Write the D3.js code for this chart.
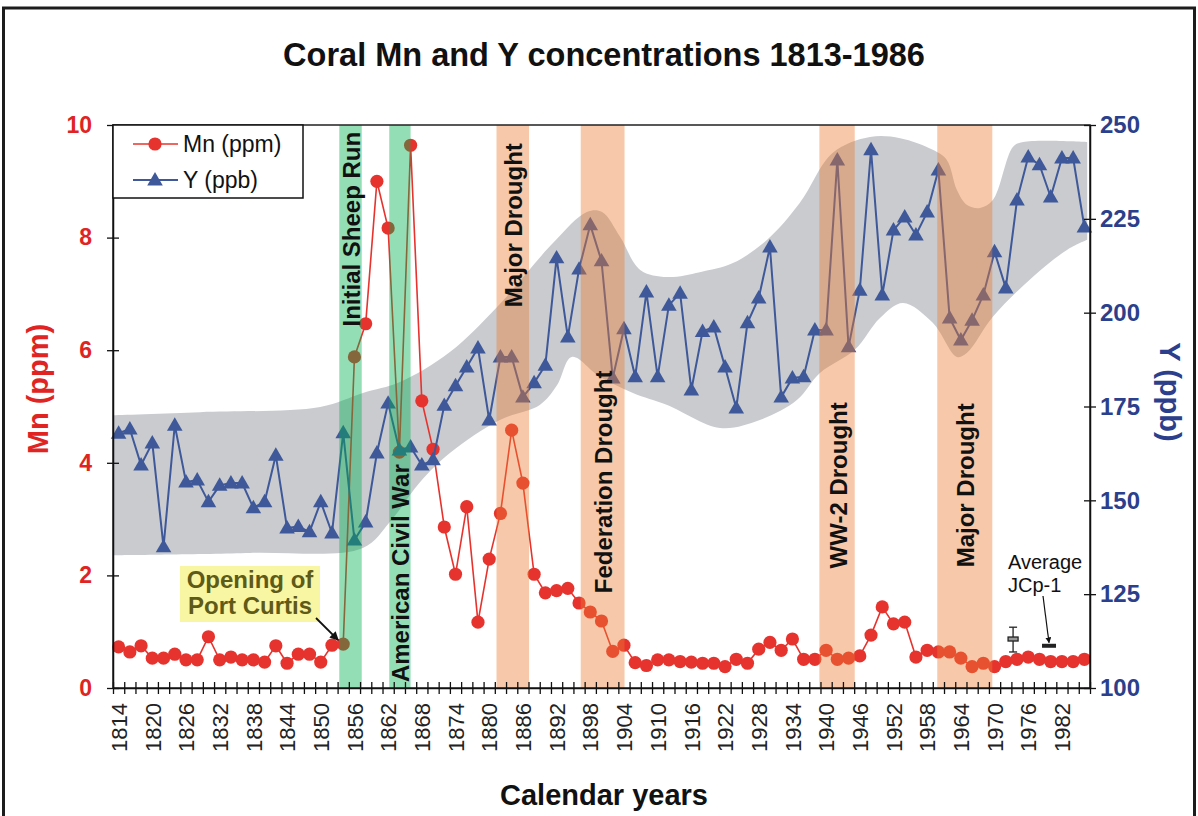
<!DOCTYPE html>
<html><head><meta charset="utf-8">
<script src="https://cdn.jsdelivr.net/npm/d3@7"></script>
<style>
body{margin:0;background:#fff}
svg{display:block}
text{font-family:"Liberation Sans",Arial,Helvetica,sans-serif}
</style>
</head><body>
<svg id="chart" width="1198" height="816"></svg>
<script>
// ---------------- DATA ----------------
const years = d3.range(1814, 1987, 2); // 1814 … 1986, every 2 years
const mnValues = [
  0.73,0.64,0.75,0.53,0.53,0.60,0.50,0.50,0.91,0.50,0.55,0.50,0.50,0.46,0.75,0.44,0.60,0.60,0.46,0.76,0.78,
  5.88,6.47,9.00,8.17,4.19,9.64,5.10,4.24,2.86,2.02,3.22,1.17,2.29,3.10,4.58,3.64,2.02,1.69,1.73,1.77,1.51,1.35,1.19,0.65,0.76,0.45,0.40,0.50,0.50,0.47,0.46,0.44,
  0.44,0.38,0.51,0.44,0.69,0.81,0.67,0.87,0.51,0.51,0.67,0.51,0.53,0.57,0.94,1.44,1.14,1.17,0.55,0.67,0.64,0.64,0.53,0.38,0.44,0.38,0.47,0.51,0.55,0.51,0.47,0.47,0.47,0.51
];
const yValues = [
  167.9,169.0,159.4,165.3,137.6,170.0,154.9,155.4,149.6,154.0,154.6,154.6,148.0,149.6,162.0,142.6,143.0,141.6,149.6,141.3,168.0,139.4,144.2,162.6,
  175.9,163.4,164.2,159.4,160.8,175.3,180.5,185.5,190.6,171.4,188.2,188.2,177.5,181.3,186.0,214.6,193.5,211.6,223.4,213.8,182.6,195.7,182.9,205.5,182.9,202.0,205.2,179.4,195.0,
  196.2,185.5,174.6,197.3,203.9,217.5,177.5,182.6,182.9,195.4,195.4,240.7,190.9,206.0,243.4,204.7,222.0,225.5,220.7,226.8,238.0,198.6,192.7,198.0,204.7,216.2,206.6,230.0,241.5,239.4,230.8,241.2,241.2,222.8
];
// Y uncertainty envelope [year, ppb]
const envelopeUpper = [
  [1813,172.7],[1828.5,173.5],[1849.9,174.9],[1857.5,178.6],[1864.1,181.5],[1873,189.5],[1881.4,201.5],
  [1891.4,218.6],[1897.4,226.8],[1900.1,226.8],[1903.3,220.2],[1906.9,211.4],[1911.7,209.5],[1917.5,210.8],
  [1923.4,213.2],[1929.5,219.4],[1935.3,229.2],[1941.2,242.6],[1947.8,246.8],[1953.2,246.5],[1959,243.4],
  [1961.5,240.7],[1963.3,232.7],[1965.1,228.7],[1967.4,227.9],[1969.7,230],[1973.3,244.2],[1975.1,245.5],[1986.5,245.5]
];
const envelopeLower = [
  [1813,135.4],[1837.4,136],[1857.5,137.3],[1862.3,144.2],[1867.7,154.9],[1873,162.6],[1881.9,171.4],
  [1889,175.4],[1892.1,180.7],[1894.7,188.2],[1899.7,182.9],[1905.6,178.6],[1911.7,175.4],[1921.1,169.3],
  [1928.2,171.4],[1934.8,176.7],[1938.9,183.9],[1945.1,190.1],[1949.6,198.6],[1953.7,202.6],[1959,197.3],
  [1963.3,188.2],[1965.1,189.3],[1969.7,198.9],[1976.8,209.5],[1982.9,216.7],[1986.5,219.4]
];
const eventLabels = ["Initial Sheep Run","American Civil War","Major Drought","Federation Drought","WW-2 Drought","Major Drought"];
const eventStart  = [1853.3, 1862.2, 1881.3, 1896.3, 1938.8, 1959.8];
const eventEnd    = [1857.3, 1866.0, 1887.1, 1904.1, 1945.1, 1969.6];
const eventKind   = ["settlement","war","drought","drought","drought","drought"];
const eventLabelMn = [8.15, 2.04, 8.22, 3.66, 3.60, 3.60]; // label centre, in Mn units
const mnTicks = [0,2,4,6,8,10];
const yTicks = [100,125,150,175,200,225,250];
const yearLabels = d3.range(1814, 1983, 6);
const yearTicks = d3.range(1813, 1988, 2);
const jcpErrorBar = {year:1973.3, mid:0.87, lo:0.64, hi:1.08};
const jcpAverage = {year:1979.7, mn:0.75};

// ---------------- LAYOUT ----------------
const L=113, R=1090, T=125, B=688;
const x = d3.scaleLinear().domain([1813,1987]).range([L,R]);
const yL = d3.scaleLinear().domain([0,10]).range([B,T]);
const yR = d3.scaleLinear().domain([100,250]).range([B,T]);
const mnColor = "#e6332e", yColor = "#3e5899";
const svg = d3.select("#chart");

// outer frame
svg.append("rect").attr("x",3.5).attr("y",8).attr("width",1191).attr("height",840)
  .attr("fill","#fff").attr("stroke","#1c1c1c").attr("stroke-width",3);

// title
svg.append("text").attr("x",604).attr("y",66).attr("text-anchor","middle")
  .attr("font-size",32.5).attr("font-weight","bold").attr("fill","#111")
  .text("Coral Mn and Y concentrations 1813-1986");

// envelope
const envLine = d3.line().x(d=>x(d[0])).y(d=>yR(d[1])).curve(d3.curveCatmullRom.alpha(0.5));
const upperPath = envLine(envelopeUpper);
const lowerPath = envLine(envelopeLower.slice().reverse());
svg.append("path").attr("d", upperPath + "L" + lowerPath.slice(1) + "Z")
  .attr("fill","#c9cbcf");

// Mn series
const mnData = years.map((yr,i)=>[yr, mnValues[i]]);
svg.append("path").attr("d", d3.line().x(d=>x(d[0])).y(d=>yL(d[1]))(mnData))
  .attr("fill","none").attr("stroke",mnColor).attr("stroke-width",1.6);
svg.append("g").selectAll("circle").data(mnData).join("circle")
  .attr("cx",d=>x(d[0])).attr("cy",d=>yL(d[1])).attr("r",6.6).attr("fill",mnColor);

// Y series
const yData = years.map((yr,i)=>[yr, yValues[i]]);
svg.append("path").attr("d", d3.line().x(d=>x(d[0])).y(d=>yR(d[1]))(yData))
  .attr("fill","none").attr("stroke",yColor).attr("stroke-width",2);
const tri = d3.symbol(d3.symbolTriangle).size(105);
svg.append("g").selectAll("path").data(yData).join("path")
  .attr("d",tri).attr("transform",d=>`translate(${x(d[0])},${yR(d[1])+1})`).attr("fill",yColor);

// event bands (overlay)
const bandFill = {settlement:"#00b050", war:"#00b050", drought:"#ed7d31"};
const bandOpacity = {settlement:0.42, war:0.42, drought:0.42};
eventLabels.forEach((lab,i)=>{
  svg.append("rect").attr("x",x(eventStart[i])).attr("y",T)
    .attr("width",x(eventEnd[i])-x(eventStart[i])).attr("height",B-T)
    .attr("fill",bandFill[eventKind[i]]).attr("fill-opacity",bandOpacity[eventKind[i]]);
});

// plot frame
svg.append("rect").attr("x",L).attr("y",T).attr("width",R-L).attr("height",B-T)
  .attr("fill","none").attr("stroke","#222").attr("stroke-width",1.5);

// event labels
eventLabels.forEach((lab,i)=>{
  const cx = (x(eventStart[i])+x(eventEnd[i]))/2, cy = yL(eventLabelMn[i]);
  svg.append("text").attr("transform",`translate(${cx+1},${cy}) rotate(-90)`)
    .attr("text-anchor","middle").attr("dominant-baseline","central")
    .attr("font-size",24).attr("font-weight","bold").attr("fill","#111").text(lab);
});

// x axis
const xAxis = svg.append("g").attr("transform",`translate(0,${B})`)
  .call(d3.axisBottom(x).tickValues(yearTicks).tickSize(6).tickSizeOuter(0).tickFormat(""));
xAxis.select(".domain").attr("stroke","#111").attr("stroke-width",1.5);
xAxis.selectAll(".tick line").attr("y1",-6).attr("stroke","#111").attr("stroke-width",1.3);
const xLab = svg.append("g").attr("transform",`translate(0,${B})`)
  .call(d3.axisBottom(x).tickValues(yearLabels).tickSize(0).tickFormat(d3.format("d")));
xLab.select(".domain").remove();
xLab.selectAll("text").attr("y",0).attr("x",0).attr("dy","0.35em")
  .attr("transform","translate(0,15) rotate(-90)").attr("text-anchor","end")
  .attr("font-size",22).attr("fill","#222").style("font-family","'Liberation Sans',Arial,sans-serif");

// left axis
const la = svg.append("g").attr("transform",`translate(${L},0)`)
  .call(d3.axisLeft(yL).tickValues(mnTicks).tickSize(6).tickSizeOuter(0));
la.select(".domain").attr("stroke","#111").attr("stroke-width",1.5);
la.selectAll(".tick line").attr("x1",6).attr("stroke","#111").attr("stroke-width",1.3);
la.selectAll("text").attr("x",-21).attr("font-size",23).attr("font-weight","bold")
  .attr("fill","#e02424").style("font-family","'Liberation Sans',Arial,sans-serif");

// right axis
const ra = svg.append("g").attr("transform",`translate(${R},0)`)
  .call(d3.axisRight(yR).tickValues(yTicks).tickSize(6).tickSizeOuter(0));
ra.select(".domain").attr("stroke","#111").attr("stroke-width",1.5);
ra.selectAll(".tick line").attr("x1",-6).attr("stroke","#111").attr("stroke-width",1.3);
ra.selectAll("text").attr("x",10).attr("font-size",24).attr("font-weight","bold")
  .attr("fill","#2b3f8c").style("font-family","'Liberation Sans',Arial,sans-serif");

// axis titles
svg.append("text").attr("transform","translate(38,389) rotate(-90)").attr("text-anchor","middle")
  .attr("dominant-baseline","central").attr("font-size",29).attr("font-weight","bold")
  .attr("fill","#e02424").text("Mn (ppm)");
svg.append("text").attr("transform","translate(1170,392) rotate(90)").attr("text-anchor","middle")
  .attr("dominant-baseline","central").attr("font-size",29).attr("font-weight","bold")
  .attr("fill","#2b3f8c").text("Y (ppb)");
svg.append("text").attr("x",604).attr("y",805).attr("text-anchor","middle")
  .attr("font-size",29).attr("font-weight","bold").attr("fill","#111").text("Calendar years");

// legend
const lg = svg.append("g");
lg.append("rect").attr("x",L).attr("y",T).attr("width",190).attr("height",73)
  .attr("fill","#fff").attr("stroke","#111").attr("stroke-width",1.5);
lg.append("line").attr("x1",133).attr("x2",178).attr("y1",144).attr("y2",144).attr("stroke",mnColor).attr("stroke-width",1.6);
lg.append("circle").attr("cx",155).attr("cy",144).attr("r",6.6).attr("fill",mnColor);
lg.append("text").attr("x",183).attr("y",144).attr("dominant-baseline","central").attr("font-size",23).attr("fill","#111").text("Mn (ppm)");
lg.append("line").attr("x1",133).attr("x2",178).attr("y1",180).attr("y2",180).attr("stroke",yColor).attr("stroke-width",2);
lg.append("path").attr("d",tri).attr("transform","translate(155,181)").attr("fill",yColor);
lg.append("text").attr("x",183).attr("y",180).attr("dominant-baseline","central").attr("font-size",23).attr("fill","#111").text("Y (ppb)");

// arrow marker
svg.append("defs").append("marker").attr("id","arr").attr("viewBox","0 0 10 10")
  .attr("refX",9).attr("refY",5).attr("markerWidth",5).attr("markerHeight",5).attr("orient","auto")
  .append("path").attr("d","M0,0L10,5L0,10Z").attr("fill","#111");

// Opening of Port Curtis annotation
const pc = svg.append("g");
pc.append("rect").attr("x",180).attr("y",566).attr("width",140).attr("height",56).attr("fill","#f9f6a3");
pc.append("text").attr("x",250).attr("y",588).attr("text-anchor","middle").attr("font-size",24)
  .attr("font-weight","bold").attr("fill","#5e5a18").text("Opening of");
pc.append("text").attr("x",250).attr("y",614).attr("text-anchor","middle").attr("font-size",24)
  .attr("font-weight","bold").attr("fill","#5e5a18").text("Port Curtis");
svg.append("line").attr("x1",316).attr("y1",618).attr("x2",x(1854)-5).attr("y2",yL(mnValues[20])-4)
  .attr("stroke","#111").attr("stroke-width",1.8).attr("marker-end","url(#arr)");

// JCp-1 annotation
svg.append("text").attr("x",1008).attr("y",569).attr("font-size",20).attr("fill","#111").text("Average");
svg.append("text").attr("x",1008).attr("y",592).attr("font-size",20).attr("fill","#111").text("JCp-1");
svg.append("line").attr("x1",1043).attr("y1",596).attr("x2",x(jcpAverage.year)).attr("y2",yL(jcpAverage.mn)-3)
  .attr("stroke","#111").attr("stroke-width",1.2).attr("marker-end","url(#arr)");
svg.append("rect").attr("x",x(jcpAverage.year)-7).attr("y",yL(jcpAverage.mn)-2).attr("width",14).attr("height",4).attr("fill","#222");
const ex = x(jcpErrorBar.year);
const eb = svg.append("g").attr("stroke","#222").attr("stroke-width",1.3);
eb.append("line").attr("x1",ex).attr("x2",ex).attr("y1",yL(jcpErrorBar.hi)).attr("y2",yL(jcpErrorBar.lo));
eb.append("line").attr("x1",ex-4).attr("x2",ex+4).attr("y1",yL(jcpErrorBar.hi)).attr("y2",yL(jcpErrorBar.hi));
eb.append("line").attr("x1",ex-4).attr("x2",ex+4).attr("y1",yL(jcpErrorBar.lo)).attr("y2",yL(jcpErrorBar.lo));
eb.append("rect").attr("x",ex-5).attr("y",yL(jcpErrorBar.mid)-2).attr("width",10).attr("height",4).attr("fill","#999");
</script>
</body></html>
